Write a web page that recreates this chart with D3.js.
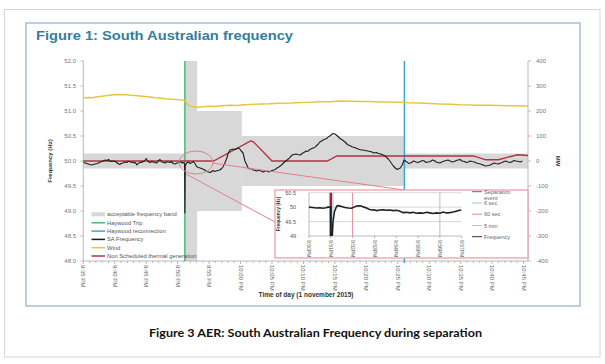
<!DOCTYPE html>
<html><head><meta charset="utf-8">
<script src="https://cdn.jsdelivr.net/npm/d3@7/dist/d3.min.js"></script>
<style>
body{margin:0;background:#fff}
svg{display:block}
text{font-family:"Liberation Sans",Arial,sans-serif}
</style>
</head><body>
<svg id="c" width="605" height="364"></svg>
<script>
// ---------- DATA (time = minutes after 9:00 PM) ----------
const xTickMinutes = [35,40,45,50,55,60,65,70,75,80,85,90,95,100,105];
const xTickLabels = ["9:35 PM","9:40 PM","9:45 PM","9:50 PM","9:55 PM","10:00 PM","10:05 PM","10:10 PM","10:15 PM","10:20 PM","10:25 PM","10:30 PM","10:35 PM","10:40 PM","10:45 PM"];
const hzTicks = [48.0,48.5,49.0,49.5,50.0,50.5,51.0,51.5,52.0];
const mwTicks = [-400,-300,-200,-100,0,100,200,300,400];

const freqMinutes = [35.0,35.3,35.6,36.0,36.3,36.6,36.9,37.2,37.4,37.7,38.0,38.3,38.5,38.8,39.0,39.2,39.4,39.8,40.1,40.3,40.5,40.8,41.0,41.3,41.6,41.9,42.1,42.3,42.5,42.7,42.9,43.1,43.3,43.5,43.7,43.9,44.1,44.3,44.5,44.7,44.9,45.0,45.15,45.3,45.6,45.9,46.1,46.4,46.7,46.9,47.2,47.5,47.8,48.0,48.2,48.5,48.8,49.0,49.3,49.6,49.9,50.1,50.4,50.7,50.9,51.1,51.15,51.2,51.45,51.7,52.0,52.3,52.5,52.8,53.0,53.3,53.6,54.0,54.3,54.6,54.9,55.2,55.6,55.9,56.1,56.4,56.7,57.0,57.2,57.5,57.8,58.0,58.3,58.6,58.9,59.2,59.6,59.9,60.1,60.4,60.7,61.0,61.2,61.5,61.8,62.0,62.3,62.6,62.9,63.1,63.4,63.6,63.9,64.2,64.5,64.7,65.0,65.3,65.6,65.8,66.1,66.3,66.6,66.9,67.2,67.4,67.7,67.9,68.2,68.5,68.8,69.1,69.5,69.7,69.9,70.2,70.4,70.7,70.9,71.2,71.5,71.8,72.0,72.3,72.6,72.9,73.1,73.5,73.8,74.0,74.2,74.5,74.7,75.0,75.2,75.5,75.8,76.2,76.6,77.0,77.3,77.5,77.8,78.1,78.3,78.5,78.9,79.2,79.5,79.8,80.2,80.6,80.9,81.2,81.6,81.9,82.3,82.7,83.0,83.2,83.5,83.8,84.0,84.3,84.6,84.9,85.2,85.4,85.7,86.0,86.3,86.5,86.7,87.0,87.3,87.5,87.9,88.2,88.6,88.9,89.2,89.5,89.8,90.2,90.5,90.8,91.1,91.4,91.7,92.0,92.4,92.7,93.0,93.3,93.7,94.0,94.3,94.6,94.9,95.2,95.6,95.9,96.2,96.5,96.8,97.2,97.5,97.8,98.1,98.4,98.7,99.0,99.4,99.7,100.0,100.3,100.6,101.0,101.3,101.6,101.9,102.2,102.5,102.9,103.2,103.5,103.8,104.2,104.5,104.8,105.1,105.4,105.7];
const freqHz = [49.97,49.96,49.95,49.93,49.92,49.93,49.94,49.95,49.96,49.98,49.99,50.01,50.02,50.01,50.03,50.01,49.99,50.00,49.99,49.97,49.95,49.93,49.95,49.96,49.98,49.97,49.99,49.99,49.98,49.97,49.98,49.96,49.97,49.92,49.95,49.96,49.98,49.97,49.99,50.00,50.03,50.05,50.02,49.99,49.97,49.99,49.98,49.97,49.96,50.00,50.03,49.98,49.97,49.96,49.98,49.98,49.97,49.99,49.95,49.94,49.96,49.97,49.99,49.96,49.97,49.95,48.96,49.90,49.96,49.98,49.95,49.97,49.99,49.94,49.89,49.87,49.86,49.84,49.82,49.79,49.78,49.77,49.81,49.79,49.80,49.81,49.82,49.85,49.88,49.96,50.05,50.14,50.22,50.23,50.24,50.23,50.26,50.24,50.20,50.16,50.00,49.92,49.86,49.84,49.85,49.82,49.81,49.80,49.82,49.81,49.79,49.78,49.80,49.80,49.78,49.79,49.81,49.82,49.84,49.86,49.88,49.90,49.93,49.97,50.00,50.02,50.05,50.08,50.12,50.13,50.14,50.13,50.12,50.14,50.16,50.18,50.20,50.19,50.22,50.24,50.26,50.27,50.30,50.33,50.38,50.40,50.42,50.44,50.46,50.49,50.50,50.53,50.55,50.54,50.52,50.49,50.45,50.42,50.38,50.33,50.31,50.30,50.28,50.27,50.26,50.25,50.23,50.22,50.22,50.21,50.20,50.19,50.18,50.16,50.17,50.15,50.14,50.12,50.10,50.07,50.04,49.99,49.95,49.90,49.86,49.83,49.85,49.86,49.92,50.02,49.99,49.98,49.95,49.96,49.98,50.00,49.98,49.97,49.99,50.01,50.00,49.97,49.98,49.99,50.02,50.01,49.98,49.97,49.96,49.98,50.00,50.01,50.02,50.00,49.98,49.99,50.01,50.02,50.03,50.00,49.99,49.97,49.98,50.00,49.99,49.98,49.96,49.95,49.94,49.93,49.91,49.90,49.91,49.92,49.94,49.96,49.95,49.94,49.96,49.97,49.99,50.00,49.98,49.97,49.99,50.01,50.00,49.99,49.98,50.00];

const windMinutes = [35.0,35.8,36.5,37.2,38.0,38.8,39.5,40.3,41.0,41.8,42.5,43.3,44.0,44.8,45.6,46.4,47.2,48.0,48.8,49.6,50.3,50.9,51.2,51.5,51.8,52.3,53.1,54.0,55.0,56.0,57.0,58.3,59.5,60.5,61.5,63.0,64.7,66.0,67.9,69.5,71.1,72.5,74.2,75.8,77.5,79.0,80.5,82.2,83.8,85.3,86.8,88.5,90.0,91.7,93.3,94.9,96.5,98.0,99.5,101.2,102.5,103.7,105.7];
const windMW = [252,254,253,257,259,262,264,266,265,266,263,262,260,258,256,253,252,249,248,246,245,243,240,230,222,218,215,217,219,218,221,223,222,225,226,228,229,231,232,234,235,237,237,240,239,238,238,236,236,235,233,232,230,228,227,225,224,223,223,222,221,221,220];

const thermalMinutes = [35.0,55.7,61.6,62.0,65.0,73.8,75.3,97.0,99.0,101.0,104.0,105.7];
const thermalMW = [0,0,80,78,0,0,20,20,5,5,25,22];

const bandStart = [35.0,51.15,53.1,60.2,86.0];
const bandEnd   = [51.15,53.1,60.2,86.0,105.7];
const bandLow   = [49.85,48.0,49.0,49.5,49.85];
const bandHigh  = [50.15,52.0,51.0,50.5,50.15];

const tripMinute = 51.15;
const reconnectMinute = 86.05;

const legendNames = ["acceptable frequency band","Haywood Trip","Haywood reconnection","SA Frequency","Wind","Non Scheduled thermal generation"];

// inset (zoom on 9:50 - 9:57 PM)
const insetTickMinutes = [50,51,52,53,54,55,56,57];
const insetTickLabels = ["9:50PM","9:51PM","9:52PM","9:53PM","9:54PM","9:55PM","9:56PM","9:57PM"];
const insetHzTicks = [49,49.5,50,50.5];
const insetHzLabels = ["49","49.5","50","50.5"];
const insetFreqMinutes = [50.0,50.16,50.35,50.5,50.64,50.78,50.87,50.99,51.0,51.05,51.1,51.17,51.27,51.35,51.5,51.65,51.8,51.96,52.06,52.19,52.29,52.41,52.52,52.64,52.75,52.87,52.98,53.1,53.25,53.4,53.55,53.71,53.86,54.02,54.17,54.32,54.47,54.63,54.78,54.93,55.08,55.24,55.39,55.54,55.69,55.84,56.0,56.15,56.3,56.45,56.6,56.75,56.86,56.98];
const insetFreqHz = [50.00,49.99,49.97,49.98,49.96,49.98,50.00,50.00,48.9,48.9,49.5,49.85,50.03,50.05,50.02,49.99,49.97,49.96,50.00,50.04,50.05,50.04,50.00,49.97,49.93,49.90,49.91,49.88,49.90,49.91,49.89,49.90,49.88,49.89,49.86,49.81,49.82,49.80,49.82,49.79,49.80,49.79,49.82,49.80,49.78,49.80,49.79,49.83,49.80,49.81,49.83,49.86,49.88,49.90];
const insetEventNames = ["Separation event","6 sec","60 sec","5 min","Frequency"];
const insetEventMinutes = [51.0,51.1,52.0,56.0];

// ---------- DRAW ----------
const svg = d3.select("#c");
const C = {
  green:"#4cb87a", blue:"#3aa6d6", black:"#1e1e1e", yellow:"#e6c640", red:"#b3303f",
  band:"#d8d8d8", axis:"#b9b9b9", tick:"#777", pink:"#e0808c"
};

// frames
svg.append("rect").attr("x",4.5).attr("y",9.5).attr("width",595.5).attr("height",347.5)
  .attr("fill","none").attr("stroke","#d6d6d6").attr("stroke-width",1);
svg.append("rect").attr("x",26).attr("y",23).attr("width",554).attr("height",283)
  .attr("fill","none").attr("stroke","#a8bfd4").attr("stroke-width",1.5);

svg.append("text").attr("x",36).attr("y",39.5).attr("font-size",13).attr("font-weight","bold")
  .attr("fill","#2f7f9d").attr("textLength",257).attr("lengthAdjust","spacingAndGlyphs")
  .text("Figure 1: South Australian frequency");
svg.append("text").attr("x",149).attr("y",337).attr("font-size",11.5).attr("font-weight","bold")
  .attr("fill","#111").attr("textLength",333).attr("lengthAdjust","spacingAndGlyphs")
  .style("font-family","Lato, 'Open Sans', sans-serif")
  .text("Figure 3 AER: South Australian Frequency during separation");

const x = d3.scaleLinear().domain([35,105.7]).range([83.3,528]);
const yHz = d3.scaleLinear().domain([48,52]).range([261,61]);
const yMW = d3.scaleLinear().domain([-400,400]).range([261,61]);

// band
const g = svg.append("g");
bandStart.forEach((s,i)=>{
  g.append("rect").attr("x",x(s)).attr("width",x(bandEnd[i])-x(s))
   .attr("y",yHz(bandHigh[i])).attr("height",yHz(bandLow[i])-yHz(bandHigh[i]))
   .attr("fill",C.band);
});

// axes
const axG = svg.append("g").attr("font-size",6).attr("fill",C.tick);
svg.append("line").attr("x1",83.3).attr("x2",83.3).attr("y1",61).attr("y2",261).attr("stroke",C.axis);
hzTicks.forEach(t=>{
  svg.append("line").attr("x1",80.5).attr("x2",83.3).attr("y1",yHz(t)).attr("y2",yHz(t)).attr("stroke",C.axis);
  axG.append("text").attr("x",76).attr("y",yHz(t)+2).attr("text-anchor","end").text(d3.format(".1f")(t));
});
svg.append("line").attr("x1",528).attr("x2",528).attr("y1",61).attr("y2",261).attr("stroke",C.axis);
mwTicks.forEach(t=>{
  svg.append("line").attr("x1",528).attr("x2",531).attr("y1",yMW(t)).attr("y2",yMW(t)).attr("stroke",C.axis);
  axG.append("text").attr("x",536).attr("y",yMW(t)+2).attr("text-anchor","start").text(t);
});
svg.append("line").attr("x1",83.3).attr("x2",528).attr("y1",261).attr("y2",261).attr("stroke",C.axis);
d3.range(35,106,1).forEach(m=>{
  svg.append("line").attr("x1",x(m)).attr("x2",x(m)).attr("y1",261).attr("y2",m%5===0?264:263).attr("stroke",C.axis);
});
xTickMinutes.forEach((m,i)=>{
  axG.append("text").attr("transform",`translate(${x(m)-2},265) rotate(90)`)
    .attr("text-anchor","start").attr("fill","#666").text(xTickLabels[i]);
});
svg.append("text").attr("transform","translate(52,161) rotate(-90)").attr("text-anchor","middle")
  .attr("font-size",6).attr("font-weight","bold").attr("fill","#333").text("Frequency (Hz)");
svg.append("text").attr("transform","translate(556,161) rotate(90)").attr("text-anchor","middle")
  .attr("font-size",6).attr("font-weight","bold").attr("fill","#333").text("MW");
svg.append("text").attr("x",306).attr("y",297).attr("text-anchor","middle")
  .attr("font-size",6.5).attr("font-weight","bold").attr("fill","#333").text("Time of day (1 november 2015)");

// event lines
svg.append("line").attr("x1",x(tripMinute)).attr("x2",x(tripMinute)).attr("y1",61).attr("y2",261).attr("stroke",C.green).attr("stroke-width",1.5);
svg.append("line").attr("x1",x(reconnectMinute)).attr("x2",x(reconnectMinute)).attr("y1",61).attr("y2",263).attr("stroke",C.blue).attr("stroke-width",1.5);

// series
const lineHz = d3.line().x(d=>x(d[0])).y(d=>yHz(d[1]));
const lineMW = d3.line().x(d=>x(d[0])).y(d=>yMW(d[1]));
svg.append("path").datum(windMinutes.map((m,i)=>[m,windMW[i]])).attr("d",lineMW)
  .attr("fill","none").attr("stroke",C.yellow).attr("stroke-width",1.3);
svg.append("path").datum(thermalMinutes.map((m,i)=>[m,thermalMW[i]])).attr("d",lineMW)
  .attr("fill","none").attr("stroke",C.red).attr("stroke-width",1.3);
svg.append("path").datum(freqMinutes.map((m,i)=>[m,freqHz[i]])).attr("d",lineHz)
  .attr("fill","none").attr("stroke",C.black).attr("stroke-width",1.1).attr("stroke-linejoin","round");

// legend
const lg = svg.append("g").attr("font-size",5.8).attr("fill","#555");
const lgColors = [C.band,C.green,C.blue,C.black,C.yellow,C.red];
const lgY = [214.3,222.8,231.1,239.4,247.7,256];
legendNames.forEach((n,i)=>{
  lg.append("line").attr("x1",91.5).attr("x2",105).attr("y1",lgY[i]).attr("y2",lgY[i])
    .attr("stroke",lgColors[i]).attr("stroke-width",i===0?4:1.5);
  lg.append("text").attr("x",107).attr("y",lgY[i]+2).text(n);
});

// annotation
svg.append("ellipse").attr("cx",196).attr("cy",162.5).attr("rx",17).attr("ry",11.5)
  .attr("fill","none").attr("stroke",C.pink).attr("stroke-width",1);
svg.append("line").attr("x1",186).attr("y1",174).attr("x2",275).attr("y2",222).attr("stroke",C.pink);
svg.append("line").attr("x1",212).attr("y1",163).attr("x2",404).attr("y2",190).attr("stroke",C.pink);

// inset
svg.append("rect").attr("x",275).attr("y",190).attr("width",253).attr("height",68)
  .attr("fill","#fff").attr("stroke","#e79aa4").attr("stroke-width",1.2);
const ix = d3.scaleLinear().domain([50,57]).range([309,461.7]);
const iy = d3.scaleLinear().domain([49,50.5]).range([236,192.7]);
const ig = svg.append("g");
insetHzTicks.forEach((t,i)=>{
  ig.append("line").attr("x1",ix(50)).attr("x2",ix(57)).attr("y1",iy(t)).attr("y2",iy(t))
    .attr("stroke",i===0?"#aaa":"#cfcfcf").attr("stroke-width",0.8);
  ig.append("text").attr("x",296).attr("y",iy(t)+2).attr("text-anchor","end")
    .attr("font-size",5.5).attr("fill","#555").text(insetHzLabels[i]);
});
ig.append("line").attr("x1",ix(50)).attr("x2",ix(50)).attr("y1",iy(50.5)).attr("y2",iy(49)).attr("stroke","#aaa").attr("stroke-width",0.8);
insetTickMinutes.forEach((m,i)=>{
  ig.append("line").attr("x1",ix(m)).attr("x2",ix(m)).attr("y1",236).attr("y2",238).attr("stroke","#aaa");
  ig.append("text").attr("transform",`translate(${ix(m)-1.8},240) rotate(90)`)
    .attr("font-size",5).attr("fill","#555").text(insetTickLabels[i]);
});
ig.append("text").attr("transform",`translate(280,214) rotate(-90)`).attr("text-anchor","middle")
  .attr("font-size",4.8).attr("font-weight","bold").attr("fill","#333").text("Frequency (Hz)");
const evColors = ["#a3202f","#8ccbe3","#e48a96","#bdbdbd"];
const evWidths = [2.5,1,1,1];
insetEventMinutes.forEach((m,i)=>{
  ig.append("line").attr("x1",ix(m)).attr("x2",ix(m)).attr("y1",iy(50.5)).attr("y2",iy(49))
    .attr("stroke",evColors[i]).attr("stroke-width",evWidths[i]);
});
ig.append("clipPath").attr("id","icl").append("rect").attr("x",305).attr("y",190).attr("width",160).attr("height",46);
ig.append("path").datum(insetFreqMinutes.map((m,i)=>[m,insetFreqHz[i]]))
  .attr("d",d3.line().x(d=>ix(d[0])).y(d=>iy(d[1])))
  .attr("clip-path","url(#icl)")
  .attr("fill","none").attr("stroke","#222").attr("stroke-width",1.6);
const ilColors = ["#4f7394","#8ccbe3","#e48a96","#bdbdbd","#333"];
const ilY = [191.7,203,214.2,225.5,236.7];
insetEventNames.forEach((n,i)=>{
  ig.append("line").attr("x1",472).attr("x2",482).attr("y1",ilY[i]).attr("y2",ilY[i]).attr("stroke",ilColors[i]);
  if(i===0){
    ig.append("text").attr("x",484).attr("y",ilY[i]+2).attr("font-size",5.5).attr("fill","#666").text("Separation");
    ig.append("text").attr("x",484).attr("y",ilY[i]+8).attr("font-size",5.5).attr("fill","#666").text("event");
  } else {
    ig.append("text").attr("x",484).attr("y",ilY[i]+2).attr("font-size",5.5).attr("fill","#666").text(n);
  }
});
</script>
</body></html>
